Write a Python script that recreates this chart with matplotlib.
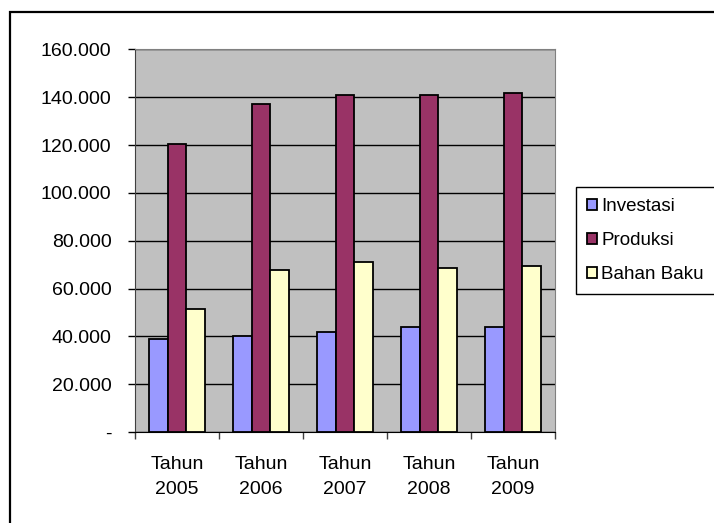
import numpy as np
import matplotlib
matplotlib.use("Agg")
import matplotlib.pyplot as plt
from matplotlib.patches import Rectangle

# data (in thousands)
years = ["Tahun\n2005", "Tahun\n2006", "Tahun\n2007", "Tahun\n2008", "Tahun\n2009"]
investasi = [38.8, 40.2, 41.7, 44.1, 44.1]
produksi = [120.5, 137.2, 141.0, 141.0, 141.8]
bahan_baku = [51.3, 67.8, 71.0, 68.5, 69.5]
series_names = ["Investasi", "Produksi", "Bahan Baku"]
colors = ["#9999FF", "#993366", "#FFFFCC"]
ytick_vals = [0, 20, 40, 60, 80, 100, 120, 140, 160]
ytick_labels = ["-", "20.000", "40.000", "60.000", "80.000", "100.000",
                "120.000", "140.000", "160.000"]

plt.rcParams['font.family'] = ['Liberation Sans', 'DejaVu Sans']
plt.rcParams['font.size'] = 14

fig = plt.figure(figsize=(7.14, 5.23), dpi=100)
ax = fig.add_axes([135/714, 1-432/523, 420/714, (432-49.5)/523])
ax.set_facecolor("#C0C0C0")

x = np.arange(len(years))
w = 0.226
for i, (vals, name, c) in enumerate(zip([investasi, produksi, bahan_baku], series_names, colors)):
    ax.bar(x + (i-1)*w, vals, width=w, color=c, edgecolor="black", linewidth=1.3,
           label=name, zorder=3)

ax.set_xlim(-0.5, 4.5)
ax.set_ylim(0, 160)
ax.set_yticks(ytick_vals)
ax.set_yticklabels(ytick_labels)
ax.yaxis.grid(True, color="black", linewidth=1, zorder=1)
ax.set_axisbelow(True)
ax.tick_params(axis="y", direction="out", length=5, width=1, pad=12, colors="black")

ax.set_xticks(x)
ax.set_xticklabels(years, linespacing=1.65)
ax.set_xticks(np.arange(-0.5, 5, 1), minor=True)
ax.tick_params(axis="x", which="major", length=0, pad=17)
ax.tick_params(axis="x", which="minor", direction="out", length=5, width=1, color="#404040")

for s in ["top", "right"]:
    ax.spines[s].set_color("#808080")
ax.spines["left"].set_color("#404040")
ax.spines["bottom"].set_color("black")

# outer chart frame
fig.patches.append(Rectangle((10/714, -0.1), 1.2, 1-12/523+0.1, transform=fig.transFigure,
                             fill=False, edgecolor="black", linewidth=1.6, clip_on=False))

leg = fig.legend(loc="upper left", bbox_to_anchor=(576/714, 1-187/523),
                 fancybox=False, edgecolor="black", framealpha=1, fontsize=13.5,
                 handlelength=0.5, handleheight=0.5, handletextpad=0.25,
                 labelspacing=0.9, borderpad=0.6, borderaxespad=0)
leg.get_frame().set_linewidth(1)

fig.savefig("out.png", dpi=100)
